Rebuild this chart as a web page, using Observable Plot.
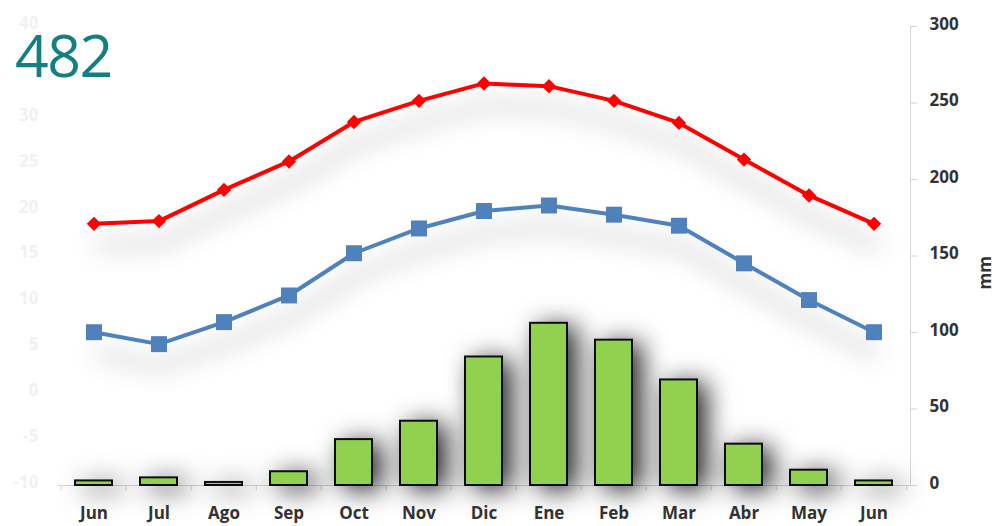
<!DOCTYPE html>
<html>
<head>
<meta charset="utf-8">
<script src="https://cdn.jsdelivr.net/npm/d3@7"></script>
<script src="https://cdn.jsdelivr.net/npm/@observablehq/plot@0.6"></script>
<style>
  html, body { margin: 0; padding: 0; background: #fff; }
  #chart { position: relative; width: 999px; height: 526px; overflow: hidden; }
  #total { position: absolute; left: 15px; top: 33px; font: 400 59px/42px "Open Sans", sans-serif; letter-spacing: -1.5px; color: #137f80; z-index: 2; }
</style>
</head>
<body>
<div id="chart"><div id="total">482</div></div>
<script>
// Monthly climate normals, June to June
const months = ["Jun", "Jul", "Ago", "Sep", "Oct", "Nov", "Dic", "Ene", "Feb", "Mar", "Abr", "May", "Jun"];
const precipitation = [3, 5, 2, 9, 30, 42, 84, 106, 95, 69, 27, 10, 3];          // mm
const tempMax = [18.5, 18.8, 22.2, 25.3, 29.6, 31.9, 33.8, 33.5, 31.9, 29.5, 25.5, 21.6, 18.5]; // °C
const tempMin = [6.7, 5.4, 7.8, 10.7, 15.3, 18.0, 19.9, 20.5, 19.5, 18.3, 14.2, 10.2, 6.7];     // °C
const mmTicks = [0, 50, 100, 150, 200, 250, 300];
const tempTicks = [-10, -5, 0, 5, 10, 15, 20, 25, 30, 40];

const W = 999, H = 526, ML = 58, MR = 89, MT = 26, MB = 41;
const step = (W - ML - MR) / months.length;

// temperature axis (-10…40 °C) shares the precipitation axis (0…300 mm)
const toMM = t => (t + 10) * 6;
const fromMM = v => v / 6 - 10;

const idx = months.map((_, i) => i);
const rows = idx.map(i => ({i, month: months[i], p: precipitation[i], hi: tempMax[i], lo: tempMin[i]}));

const font = {fontSize: 17, fontWeight: "bold"};

// attach an SVG filter to a mark's group
const withFilter = id => (index, scales, values, dims, context, next) => {
  const g = next(index, scales, values, dims, context);
  g.setAttribute("filter", `url(#${id})`);
  return g;
};

const plot = Plot.plot({
  width: W, height: H,
  marginLeft: ML, marginRight: MR, marginTop: MT, marginBottom: MB,
  style: {fontFamily: '"Open Sans", sans-serif', background: "transparent", overflow: "visible"},
  x: {type: "band", domain: idx, paddingInner: 0.43, paddingOuter: 0.215, axis: null},
  y: {domain: [0, 300], axis: null},
  marks: [
    // faint temperature scale on the left
    Plot.axisY({anchor: "left", ticks: tempTicks.map(toMM), tickFormat: v => String(Math.round(fromMM(v))),
      tickSize: 0, tickPadding: 20, dy: -3, fill: "#f1f1f1", label: null, ...font}),
    // precipitation scale on the right
    Plot.frame({anchor: "right", stroke: "#d4d4d4"}),
    Plot.axisY({anchor: "right", ticks: mmTicks, tickFormat: () => "", tickSize: 6, stroke: "#d4d4d4", label: null}),
    Plot.axisY({anchor: "right", ticks: mmTicks, tickSize: 0, tickPadding: 19, dy: -2, fill: "#333", label: null, ...font}),
    Plot.text(["mm"], {frameAnchor: "right", dx: 75, rotate: -90, fill: "#333", ...font}),
    // category axis
    Plot.ruleY([0], {stroke: "#d4d4d4"}),
    Plot.ruleX(idx, {x: d => d, y1: 0, y2: -3.5, dx: -step / 2, stroke: "#d4d4d4"}),
    Plot.ruleX([idx[idx.length - 1]], {x: d => d, y1: 0, y2: -3.5, dx: step / 2, stroke: "#d4d4d4"}),
    Plot.axisX({ticks: idx, tickFormat: i => months[i], tickSize: 0, tickPadding: 21, fill: "#333", label: null, ...font}),
    // precipitation bars
    Plot.barY(rows, {x: "i", y: "p", fill: "#92d050", stroke: "#111", strokeWidth: 2, render: withFilter("bar-shadow")}),
    // minimum temperature
    Plot.line(rows, {x: "i", y: d => toMM(d.lo), stroke: "#4f81bd", strokeWidth: 4, render: withFilter("line-shadow")}),
    Plot.dot(rows, {x: "i", y: d => toMM(d.lo), symbol: "square", r: 9, fill: "#4f81bd", stroke: "none"}),
    // maximum temperature
    Plot.line(rows, {x: "i", y: d => toMM(d.hi), stroke: "#ff0000", strokeWidth: 4, render: withFilter("line-shadow")}),
    Plot.dot(rows, {x: "i", y: d => toMM(d.hi), symbol: "diamond2", r: 6.5, fill: "#ff0000", stroke: "none"})
  ]
});

// soft drop shadows behind the series
const svg = d3.select(plot);
const defs = svg.insert("defs", ":first-child");
function shadow(id, dx, dy, sd, opacity) {
  const f = defs.append("filter").attr("id", id)
    .attr("filterUnits", "userSpaceOnUse").attr("x", -50).attr("y", -50).attr("width", W + 100).attr("height", H + 100);
  f.append("feGaussianBlur").attr("in", "SourceAlpha").attr("stdDeviation", sd).attr("result", "blur");
  f.append("feOffset").attr("in", "blur").attr("dx", dx).attr("dy", dy).attr("result", "off");
  f.append("feFlood").attr("flood-color", "#000").attr("flood-opacity", opacity).attr("result", "col");
  f.append("feComposite").attr("in", "col").attr("in2", "off").attr("operator", "in").attr("result", "shadow");
  const m = f.append("feMerge");
  m.append("feMergeNode").attr("in", "shadow");
  m.append("feMergeNode").attr("in", "SourceGraphic");
}
shadow("bar-shadow", 9, 4, 13, 0.85);
shadow("line-shadow", 3, 22, 12, 0.42);

document.getElementById("chart").appendChild(plot);
</script>
</body>
</html>
